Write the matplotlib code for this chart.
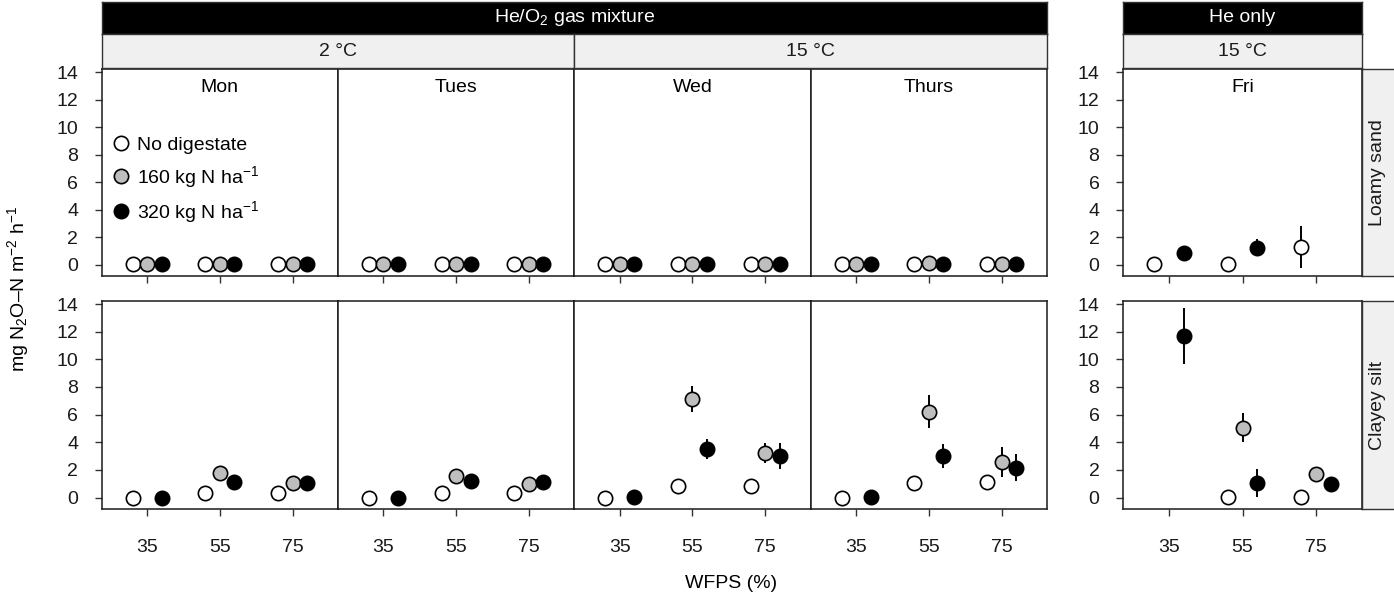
import numpy as np
import matplotlib
matplotlib.use("Agg")
import matplotlib.pyplot as plt
from matplotlib.lines import Line2D

plt.rcParams['font.family'] = ['Liberation Sans', 'DejaVu Sans']
plt.rcParams['mathtext.fontset'] = 'custom'
plt.rcParams['mathtext.rm'] = 'Liberation Sans'
plt.rcParams['mathtext.it'] = 'Liberation Sans:italic'
plt.rcParams['mathtext.default'] = 'regular'

# ---------------- data ----------------
wfps = [35, 55, 75]
days = ["Mon", "Tues", "Wed", "Thurs", "Fri"]
soils = ["Loamy sand", "Clayey silt"]
treatments = ["No digestate", "160 kg N ha$^{-1}$", "320 kg N ha$^{-1}$"]
nan = np.nan

# Loamy sand (rows = days, cols = WFPS 35/55/75)
loamy_none = [[0.02, 0.02, 0.02], [0.02, 0.02, 0.02], [0.02, 0.02, 0.02], [0.02, 0.03, 0.03], [0.05, 0.05, 1.28]]
loamy_160 = [[0.03, 0.03, 0.03], [0.03, 0.03, 0.03], [0.03, 0.03, 0.03], [0.03, 0.15, 0.03], [nan, nan, nan]]
loamy_320 = [[0.04, 0.04, 0.04], [0.04, 0.04, 0.04], [0.04, 0.04, 0.04], [0.04, 0.04, 0.04], [0.87, 1.24, nan]]
loamy_none_se = [[0, 0, 0], [0, 0, 0], [0, 0, 0], [0, 0, 0], [0.05, 0.05, 1.56]]
loamy_160_se = [[0, 0, 0], [0, 0, 0], [0, 0, 0], [0, 0.05, 0], [nan, nan, nan]]
loamy_320_se = [[0, 0, 0], [0, 0, 0], [0, 0, 0], [0, 0, 0], [0.1, 0.6, nan]]

# Clayey silt
clayey_none = [[0.0, 0.34, 0.36], [0.0, 0.34, 0.34], [0.0, 0.80, 0.87], [0.0, 1.04, 1.14], [nan, 0.07, 0.05]]
clayey_160 = [[nan, 1.75, 1.07], [nan, 1.53, 0.97], [nan, 7.15, 3.23], [nan, 6.22, 2.57], [nan, 5.05, 1.70]]
clayey_320 = [[0.0, 1.09, 1.07], [0.0, 1.22, 1.09], [0.03, 3.50, 2.99], [0.07, 3.01, 2.14], [11.67, 1.04, 0.97]]
clayey_none_se = [[0, 0.05, 0.05], [0, 0.05, 0.05], [0, 0.1, 0.1], [0, 0.1, 0.1], [nan, 0.05, 0.05]]
clayey_160_se = [[nan, 0.15, 0.1], [nan, 0.15, 0.1], [nan, 0.95, 0.70], [nan, 1.18, 1.10], [nan, 1.05, 0.1]]
clayey_320_se = [[0, 0.1, 0.1], [0, 0.1, 0.1], [0.05, 0.70, 0.96], [0.05, 0.85, 0.98], [2.03, 1.00, 0.1]]

values = {"Loamy sand": [loamy_none, loamy_160, loamy_320],
          "Clayey silt": [clayey_none, clayey_160, clayey_320]}
errors = {"Loamy sand": [loamy_none_se, loamy_160_se, loamy_320_se],
          "Clayey silt": [clayey_none_se, clayey_160_se, clayey_320_se]}

fills = ["white", "#bebebe", "black"]
dodge = [-4.0, 0.0, 4.0]

# ---------------- layout (pixels) ----------------
W, H = 1394, 600
fig = plt.figure(figsize=(W / 100, H / 100), dpi=100)


def rect(x0, y0, x1, y1):
    return [x0 / W, 1 - y1 / H, (x1 - x0) / W, (y1 - y0) / H]


col_edges = [(101.7, 338.0), (338.0, 574.3), (574.3, 810.6), (810.6, 1047.0), (1123.0, 1362.0)]
row_edges = [(69.0, 276.0), (301.0, 509.0)]

FS = 14
edge = "#1a1a1a"
tick_col = "#333333"

for r, soil in enumerate(soils):
    for c, day in enumerate(days):
        x0, x1 = col_edges[c]
        y0, y1 = row_edges[r]
        ax = fig.add_axes(rect(x0, y0, x1, y1))
        ax.set_xlim(22.5, 87.5)
        ax.set_ylim(-0.83, 14.22)
        for sp in ax.spines.values():
            sp.set_linewidth(1.1)
            sp.set_color(edge)
        ax.set_xticks(wfps)
        ax.set_yticks(range(0, 15, 2))
        ax.tick_params(axis='both', length=5, width=1.0, color=tick_col,
                       labelsize=FS, labelcolor="#1a1a1a")
        ax.tick_params(axis='x', pad=16.5)
        ax.tick_params(axis='y', pad=12)
        if r == 0:
            ax.set_xticklabels([])
        if c not in (0, 4):
            ax.set_yticklabels([])
            ax.tick_params(axis='y', length=0)
        vals = values[soil]
        errs = errors[soil]
        # error bars first (behind points)
        for t in range(3):
            xs = np.array(wfps) + dodge[t]
            ys = np.array(vals[t][c], dtype=float)
            es = np.array(errs[t][c], dtype=float)
            ax.errorbar(xs, ys, yerr=es, fmt='none', ecolor='black', elinewidth=1.4,
                        capsize=0, zorder=2)
        for t in range(3):
            xs = np.array(wfps) + dodge[t]
            ys = np.array(vals[t][c], dtype=float)
            ax.plot(xs, ys, linestyle='none', marker='o', markersize=10.3,
                    markerfacecolor=fills[t], markeredgecolor='black',
                    markeredgewidth=1.2, zorder=3 + t, label=treatments[t])
        if r == 0:
            ax.text(0.5, 1 - (87 - 69) / 207, day, transform=ax.transAxes,
                    ha='center', va='center', fontsize=FS)
        if r == 0 and c == 0:
            handles = [Line2D([], [], linestyle='none', marker='o', markersize=10.3,
                              markerfacecolor=fills[t], markeredgecolor='black',
                              markeredgewidth=1.2) for t in range(3)]
            ax.legend(handles, treatments, loc='upper left', frameon=False,
                      bbox_to_anchor=(0.045, 0.675), fontsize=FS, handlelength=0.9,
                      handletextpad=0.35, labelspacing=0.5, borderaxespad=0.0,
                      borderpad=0.0)


def strip(x0, y0, x1, y1, text, fc, tc, rot=0):
    a = fig.add_axes(rect(x0, y0, x1, y1))
    a.set_facecolor(fc)
    a.set_xticks([])
    a.set_yticks([])
    for sp in a.spines.values():
        sp.set_color("#333333")
        sp.set_linewidth(1.0)
    a.text(0.5, 0.5, text, transform=a.transAxes, ha='center', va='center',
           color=tc, fontsize=FS, rotation=rot)
    return a


strip_grey = "#f0f0f0"
# top strips: gas
strip(101.7, 2, 1047.0, 34, "He/O$_2$ gas mixture", "black", "white")
strip(1123.0, 2, 1362.0, 34, "He only", "black", "white")
# temperature strips
strip(101.7, 34, 574.3, 68, "2 °C", strip_grey, "#1a1a1a")
strip(574.3, 34, 1047.0, 68, "15 °C", strip_grey, "#1a1a1a")
strip(1123.0, 34, 1362.0, 68, "15 °C", strip_grey, "#1a1a1a")
# soil strips on right
for r, soil in enumerate(soils):
    y0, y1 = row_edges[r]
    a = strip(1362.0, y0, 1396.0, y1, "", strip_grey, "#1a1a1a")
    a.text(15.5 / 34, 0.5, soil, transform=a.transAxes, ha='center', va='center',
           color="#1a1a1a", fontsize=FS, rotation=90)

fig.text(18 / W, 1 - 289 / H, "mg N$_2$O–N m$^{-2}$ h$^{-1}$", rotation=90,
         ha='center', va='center', fontsize=FS)
fig.text(731 / W, 1 - 584 / H, "WFPS (%)", ha='center', va='center', fontsize=FS)

fig.savefig("out.png", dpi=100)
